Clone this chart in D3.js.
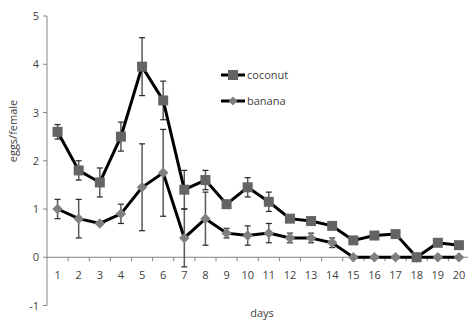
<!DOCTYPE html>
<html>
<head>
<meta charset="utf-8">
<script src="https://cdn.jsdelivr.net/npm/d3@7"></script>
<style>
  body { margin: 0; background: #fff; }
  text { font-family: "Open Sans", "Liberation Sans", sans-serif; fill: #404040; }
</style>
</head>
<body>
<div id="chart"></div>
<script>
// données
const days = [1, 2, 3, 4, 5, 6, 7, 8, 9, 10, 11, 12, 13, 14, 15, 16, 17, 18, 19, 20];
const coconut = [2.6, 1.8, 1.55, 2.5, 3.95, 3.25, 1.4, 1.6, 1.1, 1.45, 1.15, 0.8, 0.75, 0.65, 0.35, 0.45, 0.48, 0, 0.3, 0.25];
const coconutErr = [0.15, 0.2, 0.3, 0.3, 0.6, 0.4, 0.4, 0.2, 0, 0.2, 0.2, 0, 0, 0, 0, 0, 0, 0, 0, 0];
const banana = [1.0, 0.8, 0.7, 0.9, 1.45, 1.75, 0.4, 0.8, 0.5, 0.45, 0.5, 0.4, 0.4, 0.3, 0, 0, 0, 0, 0, 0];
const bananaErr = [0.2, 0.4, 0, 0.2, 0.9, 0.9, 0.6, 0.55, 0.1, 0.2, 0.2, 0.1, 0.1, 0.1, 0, 0, 0, 0, 0, 0];
const yTicks = [-1, 0, 1, 2, 3, 4, 5];

const W = 468, H = 320;
const margin = { top: 16, right: 0, bottom: 15, left: 47 };

const svg = d3.select("#chart").append("svg")
    .attr("width", W)
    .attr("height", H);

const y = d3.scaleLinear().domain([-1, 5]).range([305.5, 16]);
const x = d3.scaleBand().domain(days).range([margin.left, 469.5]);
const cx = d => x(d) + x.bandwidth() / 2;

// axe Y
svg.append("line")
    .attr("x1", margin.left).attr("x2", margin.left)
    .attr("y1", y(5)).attr("y2", y(-1))
    .attr("stroke", "#868686");
svg.append("g").selectAll("line")
    .data(yTicks).enter().append("line")
    .attr("x1", margin.left - 4).attr("x2", margin.left)
    .attr("y1", d => y(d)).attr("y2", d => y(d))
    .attr("stroke", "#868686");
svg.append("g").selectAll("text")
    .data(yTicks).enter().append("text")
    .attr("x", margin.left - 8)
    .attr("y", d => y(d) + 4)
    .attr("text-anchor", "end")
    .style("font-size", "11px")
    .text(d => d);

// axe X (à y = 0)
svg.append("line")
    .attr("x1", margin.left).attr("x2", 469.5)
    .attr("y1", y(0)).attr("y2", y(0))
    .attr("stroke", "#868686");
svg.append("g").selectAll("line")
    .data(days).enter().append("line")
    .attr("x1", d => x(d) + x.bandwidth()).attr("x2", d => x(d) + x.bandwidth())
    .attr("y1", y(0)).attr("y2", y(0) + 4)
    .attr("stroke", "#868686");
svg.append("g").selectAll("text")
    .data(days).enter().append("text")
    .attr("x", d => cx(d))
    .attr("y", y(0) + 22)
    .attr("text-anchor", "middle")
    .style("font-size", "11px")
    .text(d => d);

// titres des axes
svg.append("text")
    .attr("x", 262).attr("y", 317)
    .attr("text-anchor", "middle")
    .style("font-size", "11px")
    .text("days");
svg.append("text")
    .attr("transform", "translate(17,131) rotate(-90)")
    .attr("text-anchor", "middle")
    .style("font-size", "11px")
    .text("eggs/female");

// barres d'erreur
function errorBars(vals, errs) {
    const g = svg.append("g");
    const pts = days.map((d, i) => ({ d: d, v: vals[i], e: errs[i] })).filter(p => p.e > 0);
    g.selectAll("line.bar").data(pts).enter().append("line")
        .attr("x1", p => cx(p.d)).attr("x2", p => cx(p.d))
        .attr("y1", p => y(p.v - p.e)).attr("y2", p => y(p.v + p.e))
        .attr("stroke", "#595959").attr("stroke-width", 1.5);
    [-1, 1].forEach(s => {
        g.selectAll("line.cap" + s).data(pts).enter().append("line")
            .attr("x1", p => cx(p.d) - 3).attr("x2", p => cx(p.d) + 3)
            .attr("y1", p => y(p.v + s * p.e)).attr("y2", p => y(p.v + s * p.e))
            .attr("stroke", "#262626").attr("stroke-width", 1.2);
    });
}
errorBars(banana, bananaErr);
errorBars(coconut, coconutErr);

const line = d3.line().x((v, i) => cx(days[i])).y(v => y(v));

// banana
svg.append("path")
    .attr("d", line(banana))
    .attr("fill", "none").attr("stroke", "#000").attr("stroke-width", 3);
svg.append("g").selectAll("path")
    .data(banana).enter().append("path")
    .attr("d", d3.symbol(d3.symbolDiamond2, 70))
    .attr("transform", (v, i) => "translate(" + cx(days[i]) + "," + y(v) + ")")
    .attr("fill", "#7f7f7f");

// coconut
svg.append("path")
    .attr("d", line(coconut))
    .attr("fill", "none").attr("stroke", "#000").attr("stroke-width", 3);
svg.append("g").selectAll("rect")
    .data(coconut).enter().append("rect")
    .attr("x", (v, i) => cx(days[i]) - 5)
    .attr("y", v => y(v) - 5)
    .attr("width", 10).attr("height", 10)
    .attr("fill", "#646464");

// légende
const leg = svg.append("g");
leg.append("line").attr("x1", 221).attr("x2", 245).attr("y1", 75).attr("y2", 75)
    .attr("stroke", "#000").attr("stroke-width", 3);
leg.append("rect").attr("x", 228).attr("y", 70).attr("width", 10).attr("height", 10).attr("fill", "#646464");
leg.append("text").attr("x", 247).attr("y", 79).style("font-size", "11px").text("coconut");
leg.append("line").attr("x1", 221).attr("x2", 245).attr("y1", 101).attr("y2", 101)
    .attr("stroke", "#000").attr("stroke-width", 3);
leg.append("path").attr("d", d3.symbol(d3.symbolDiamond2, 50))
    .attr("transform", "translate(233,101)").attr("fill", "#7f7f7f");
leg.append("text").attr("x", 247).attr("y", 105).style("font-size", "11px").text("banana");
</script>
</body>
</html>
